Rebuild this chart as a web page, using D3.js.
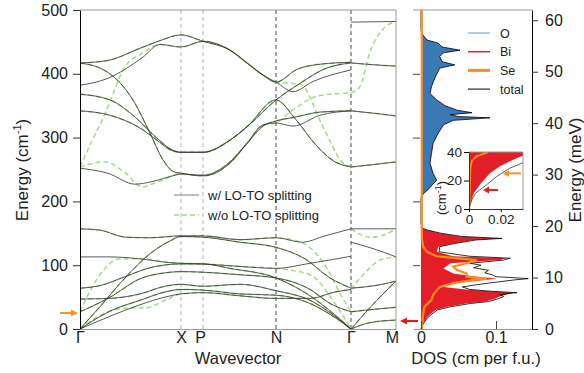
<!DOCTYPE html>
<html><head><meta charset="utf-8">
<script src="https://cdn.jsdelivr.net/npm/d3@7"></script>
<style>
html,body{margin:0;padding:0;background:#fff;}
svg{display:block;font-family:"Liberation Sans",Arial,sans-serif;}
</style></head><body>
<svg id="c" width="584" height="373"></svg>
<script>
// ---------------- DATA ----------------
const kTicks = [0, 101, 123, 196, 271, 316];
const kLabels = ["Γ", "X", "P", "N", "Γ", "M"];
const energyTicks = [0, 100, 200, 300, 400, 500];
const mevTicks = [0, 10, 20, 30, 40, 50, 60];
const dosTicks = [0, 0.1];
const insetYTicks = [0, 20, 40];
const insetXTicks = [0, 0.02];
const legendBands = ["w/ LO-TO splitting", "w/o LO-TO splitting"];
const legendDos = ["O", "Bi", "Se", "total"];

// phonon branches [k, energy cm^-1] drawn in both styles
const bandsShared = [
  [[0,417],[28,421],[60,440],[80,452],[101,461],[123,451],[150,437],[167,417],[183,398],[196,387],[217,407],[240,415],[271,418]],
  [[0,417],[27,403],[53,359],[70,307],[83,265],[93,247],[101,244],[123,241],[150,262],[167,291],[183,318],[196,326],[215,332],[240,340],[271,342]],
  [[0,368],[30,359],[53,335],[77,299],[93,280],[101,277],[123,277],[150,296],[167,317],[196,359],[220,385],[245,408],[271,417]],
  [[0,342],[30,335],[60,315],[77,296],[90,281],[101,277],[123,277],[150,296],[167,317],[196,359],[215,330],[235,290],[255,262],[271,254]],
  [[0,0],[20,35],[45,80],[70,118],[90,138],[101,145],[123,144],[160,136],[196,128],[225,110],[250,80],[271,64]],
  [[0,64],[20,68],[45,82],[70,96],[101,102],[123,102],[150,95],[196,80],[230,52],[255,22],[271,0]],
  [[0,27],[28,48],[62,80],[85,88],[101,90],[123,89],[160,85],[196,80],[230,62],[250,40],[271,27]],
  [[0,47],[30,48],[60,55],[85,67],[101,70],[123,67],[160,70],[196,60],[230,45],[255,20],[271,0]],
  [[0,0],[30,28],[60,45],[85,58],[101,62],[123,61],[160,55],[196,53],[230,40],[255,18],[271,0]],
  [[271,417],[295,414],[316,412]],
  [[271,342],[295,338],[316,334]],
  [[271,254],[295,258],[316,262]],
  [[271,64],[295,68],[316,75]],
  [[271,0],[295,42],[316,75]],
  [[271,27],[295,31],[316,34]],
  [[271,0],[290,10],[316,14]]
];
// branches only with LO-TO splitting
const bandsLO = [
  [[0,382],[28,393],[62,425],[80,446],[101,442],[123,451],[150,437],[167,417],[183,398],[196,387],[213,372],[233,388],[271,406]],
  [[0,252],[28,244],[55,227],[72,231],[95,241],[101,243],[123,240],[150,260],[167,291],[183,320],[196,323],[213,318],[240,335],[271,342]],
  [[0,157],[20,155],[45,144],[70,143],[101,146],[123,146],[160,140],[196,143],[222,136],[245,146],[271,157]],
  [[0,113],[30,113],[60,110],[90,104],[101,103],[123,102],[160,98],[196,95],[230,103],[271,114]],
  [[0,0],[30,20],[60,38],[85,50],[101,55],[123,57],[160,52],[196,48],[230,48],[255,58],[271,62]],
  [[271,481],[316,482]],
  [[271,136],[295,125],[316,113]],
  [[271,157],[295,157],[316,157]]
];
// branches only without LO-TO splitting
const bandsNoLO = [
  [[0,254],[12,295],[25,337],[45,411],[62,432],[80,446],[101,442],[123,451],[150,437],[167,417],[183,398],[196,387],[220,384],[243,317],[262,262],[271,254]],
  [[0,254],[25,262],[45,245],[62,223],[80,232],[101,243],[123,240],[150,260],[167,291],[183,320],[196,323],[210,340],[240,366],[271,370]],
  [[0,157],[20,155],[45,144],[70,143],[101,146],[123,146],[160,140],[196,143],[222,135],[245,100],[262,50],[271,27]],
  [[0,27],[12,65],[25,95],[40,110],[60,110],[90,104],[101,103],[123,102],[160,98],[196,95],[230,85],[255,40],[271,0]],
  [[0,0],[25,25],[50,33],[65,33],[85,45],[101,55],[123,57],[160,52],[196,48],[230,48],[255,58],[271,62]],
  [[271,370],[280,380],[290,434],[303,470],[316,482]],
  [[271,62],[285,88],[300,108],[316,113]],
  [[271,157],[290,144],[305,148],[316,157]]
];

// DOS [energy cm^-1, DOS]
const dosO = [[205,0],[212,0.003],[218,0.009],[226,0.015],[233,0.021],[244,0.016],[260,0.012],[275,0.014],[291,0.016],[307,0.023],[320,0.03],[327,0.043],[331,0.092],[333,0.05],[336,0.039],[339,0.068],[343,0.048],[350,0.032],[359,0.021],[369,0.012],[380,0.014],[395,0.019],[409,0.025],[414,0.045],[419,0.028],[427,0.025],[433,0.03],[437,0.052],[442,0.028],[448,0.023],[453,0.008],[463,0.001],[470,0],[500,0]];
const dosBi = [[0,0],[4,0.001],[11,0.004],[18,0.008],[25,0.014],[30,0.02],[35,0.035],[40,0.06],[43,0.085],[47,0.098],[51,0.105],[57,0.123],[59,0.09],[62,0.06],[66,0.03],[72,0.048],[77,0.088],[79,0.101],[82,0.074],[87,0.043],[95,0.03],[103,0.039],[108,0.105],[111,0.114],[114,0.043],[121,0.021],[129,0.023],[134,0.043],[139.5,0.07],[142,0.105],[145,0.052],[150,0.025],[155,0.008],[158,0]];
const dosSe = [[0,0.001],[14,0.002],[24.5,0.003],[35,0.0047],[45.6,0.014],[53,0.016],[61,0.021],[66,0.025],[72,0.043],[77,0.07],[79,0.088],[82,0.061],[87,0.061],[92.5,0.048],[98,0.043],[103,0.061],[108,0.074],[112,0.039],[114,0.021],[121,0.008],[129,0.003],[142,0.001],[500,0.001]];
const dosTotalLow = [[0,0],[4,0.0012],[11,0.0045],[18,0.009],[25,0.016],[30,0.022],[35,0.04],[40,0.066],[43,0.09],[47,0.102],[51,0.11],[54,0.105],[57,0.128],[59,0.095],[62,0.065],[66,0.055],[72,0.09],[77,0.125],[79,0.143],[82,0.1],[85,0.095],[88,0.085],[92,0.09],[96,0.07],[100,0.08],[103,0.065],[108,0.11],[111,0.119],[114,0.065],[121,0.024],[129,0.025],[134,0.045],[139.5,0.073],[142,0.108],[145,0.055],[150,0.027],[155,0.009],[158,0.002],[165,0],[205,0]];
const dosTotalHigh = dosO;

// inset (0-40 cm^-1)
const insetBi = [[0,0],[5,0.001],[11,0.003],[18,0.0075],[25,0.013],[30,0.0195],[34.4,0.0275],[37,0.033],[40,0.04]];
const insetTotal = [[0,0],[6.3,0.0017],[11,0.004],[13.4,0.0069],[16.9,0.011],[22.7,0.0173],[28.6,0.0256],[33.3,0.036]];
const insetSe = [[0,0],[10,0.0004],[25,0.0007],[30,0.001],[34,0.0019],[37,0.0048],[40,0.012]];

// marked modes (cm^-1)
const markOrange = 25;
const markRed = 12.5;
const insetMarkRed = 13.3;
const insetMarkOrange = 25;

// ---------------- DRAW ----------------
const svg = d3.select("#c");
const xK = d3.scaleLinear().domain([0, 316]).range([80, 396]);
const yE = d3.scaleLinear().domain([0, 500]).range([329, 10]);
const yMeV = d3.scaleLinear().domain([0, 500 / 8.0655]).range([329, 10]);
const xD = d3.scaleLinear().domain([-0.0107, 0.148]).range([413, 532]);
const xIn = d3.scaleLinear().domain([0, 0.034]).range([469, 523]);
const yIn = d3.scaleLinear().domain([0, 40]).range([209, 152]);

const FS = 16;
const FF = "Liberation Sans, Arial, sans-serif";
const defs = svg.append("defs");
defs.append("clipPath").attr("id","clipL").append("rect").attr("x",80).attr("y",10).attr("width",316).attr("height",319);
defs.append("clipPath").attr("id","clipD").append("rect").attr("x",413).attr("y",10).attr("width",119).attr("height",319);
defs.append("clipPath").attr("id","clipI").append("rect").attr("x",469).attr("y",152).attr("width",54).attr("height",57);

// ---- band panel ----
const gL = svg.append("g");
kTicks.forEach((k, i) => {
  if (i === 0 || i === kTicks.length - 1) return;
  gL.append("line").attr("x1", xK(k)).attr("x2", xK(k)).attr("y1", yE(500)).attr("y2", yE(0))
    .attr("stroke", i <= 2 ? "#aaa" : "#333").attr("stroke-width", 0.9).attr("stroke-dasharray", "4,3");
});
const bandLine = d3.line().x(d => xK(d[0])).y(d => yE(d[1])).curve(d3.curveMonotoneX);
const gB = gL.append("g").attr("clip-path", "url(#clipL)");
gB.selectAll("path.g").data(bandsShared.concat(bandsNoLO)).enter().append("path")
  .attr("d", bandLine).attr("fill","none").attr("stroke","#a6d888").attr("stroke-width",1.5).attr("stroke-dasharray","5,3");
gB.selectAll("path.s").data(bandsShared.concat(bandsLO)).enter().append("path")
  .attr("d", bandLine).attr("fill","none").attr("stroke","#333").attr("stroke-width",0.9).attr("stroke-opacity",0.9);

// frame
gL.append("line").attr("x1",80).attr("x2",396).attr("y1",10).attr("y2",10).attr("stroke","#999");
gL.append("line").attr("x1",396).attr("x2",396).attr("y1",10).attr("y2",329).attr("stroke","#999");

const axL = gL.append("g").attr("transform","translate(80,0)")
  .call(d3.axisLeft(yE).tickValues(energyTicks).tickSizeInner(7).tickSizeOuter(0).tickPadding(5));
axL.select(".domain").attr("stroke","#000");
axL.selectAll("text").attr("font-size",FS).attr("fill","#222").attr("font-family",FF);
axL.selectAll(".tick line").attr("stroke","#333");

const axB = gL.append("g").attr("transform","translate(0,329)")
  .call(d3.axisBottom(xK).tickValues(kTicks).tickFormat((d,i)=>kLabels[i]).tickSizeInner(0).tickSizeOuter(0).tickPadding(3));
axB.select(".domain").attr("stroke","#999");
axB.selectAll("text").attr("font-size",FS).attr("fill","#222").attr("font-family",FF)
  .attr("dx",(d,i)=> i===2 ? -3 : (i===5 ? -4 : 0));

// titles
svg.append("text").attr("transform","translate(28,170) rotate(-90)").attr("text-anchor","middle")
  .attr("font-size",17).attr("fill","#222")
  .call(t=>{t.append("tspan").text("Energy (cm");t.append("tspan").attr("dy",-7).attr("font-size",11).text("-1");t.append("tspan").attr("dy",7).text(")");});
svg.append("text").attr("x",238).attr("y",364).attr("text-anchor","middle").attr("font-size",16.5).attr("fill","#222").text("Wavevector");

// band legend
const lg = svg.append("g");
legendBands.forEach((t,i)=>{
  const y = 195 + i*20;
  lg.append("line").attr("x1",174).attr("x2",199).attr("y1",y).attr("y2",y)
    .attr("stroke", i===0 ? "#999" : "#a6d888").attr("stroke-width",1.3).attr("stroke-dasharray", i===0 ? null : "5,3");
  lg.append("text").attr("x",208).attr("y",y+4.5).attr("font-size",13).attr("fill","#222").text(t);
});

// arrows
function arrow(g, x1, x2, y, color, len, w){
  const dir = Math.sign(x2 - x1);
  g.append("line").attr("x1",x1).attr("x2",x2 - dir*len*0.8).attr("y1",y).attr("y2",y).attr("stroke",color).attr("stroke-width",2);
  g.append("path").attr("d",`M${x2},${y} L${x2-dir*len},${y-w/2} L${x2-dir*len},${y+w/2} Z`).attr("fill",color);
}
arrow(svg, 60, 78, yE(markOrange), "#f7931e", 7, 7);
arrow(svg, 418, 400, yE(markRed), "#e41a1c", 7, 7);

// ---- DOS panel ----
const gD = svg.append("g");
const gDc = gD.append("g").attr("clip-path","url(#clipD)");
const areaD = d3.area().y(d=>yE(d[0])).x0(xD(0)).x1(d=>xD(d[1]));
const lineD = d3.line().y(d=>yE(d[0])).x(d=>xD(d[1]));
gDc.append("path").datum(dosO).attr("d",areaD).attr("fill","#3b78b6");
gDc.append("path").datum(dosBi).attr("d",areaD).attr("fill","#e41e26");
gDc.append("path").datum(dosTotalLow).attr("d",lineD).attr("fill","none").attr("stroke","#000").attr("stroke-width",0.8);
gDc.append("path").datum(dosTotalHigh).attr("d",lineD).attr("fill","none").attr("stroke","#000").attr("stroke-width",0.8);
gDc.append("path").datum(dosSe).attr("d",lineD).attr("fill","none").attr("stroke","#ff8c1a").attr("stroke-width",2.2);

gD.append("line").attr("x1",413).attr("x2",532).attr("y1",10).attr("y2",10).attr("stroke","#999");
const axDl = gD.append("g").attr("transform","translate(413,0)")
  .call(d3.axisRight(yE).tickValues([100,200,300,400]).tickSizeInner(7).tickSizeOuter(0).tickFormat(""));
axDl.select(".domain").remove();
axDl.selectAll(".tick line").attr("stroke","#444");
const axDb = gD.append("g").attr("transform","translate(0,329)")
  .call(d3.axisBottom(xD).tickValues(dosTicks).tickFormat(d=> d===0 ? "0" : "0.1").tickSizeInner(-8).tickSizeOuter(0).tickPadding(3));
axDb.select(".domain").attr("stroke","#999");
axDb.selectAll(".tick line").attr("stroke","#444");
axDb.selectAll("text").attr("font-size",FS).attr("fill","#222").attr("font-family",FF);
const axR = gD.append("g").attr("transform","translate(532,0)")
  .call(d3.axisRight(yMeV).tickValues(mevTicks).tickFormat(d3.format("d")).tickSizeInner(6).tickSizeOuter(0).tickPadding(7));
axR.select(".domain").attr("stroke","#000");
axR.selectAll(".tick line").attr("stroke","#333");
axR.selectAll("text").attr("font-size",FS).attr("fill","#222").attr("font-family",FF);

svg.append("text").attr("x",476).attr("y",364).attr("text-anchor","middle").attr("font-size",16.5).attr("fill","#222").text("DOS (cm per f.u.)");
svg.append("text").attr("transform","translate(581,170) rotate(-90)").attr("text-anchor","middle").attr("font-size",17).attr("fill","#222").text("Energy (meV)");

// DOS legend
const dl = svg.append("g");
const dlColors = ["#7fa9d8","#e41e26","#ff8c1a","#000"];
const dlWidths = [1.2,1.5,3,1];
legendDos.forEach((t,i)=>{
  const y = 33 + i*18.7;
  dl.append("line").attr("x1",468).attr("x2",490).attr("y1",y).attr("y2",y).attr("stroke",dlColors[i]).attr("stroke-width",dlWidths[i]);
  dl.append("text").attr("x",500).attr("y",y+4.5).attr("font-size",12.5).attr("fill","#222").text(t);
});

// ---- inset ----
const gI = svg.append("g");
gI.append("rect").attr("x",469).attr("y",152).attr("width",54).attr("height",57).attr("fill","#fff");
const gIc = gI.append("g").attr("clip-path","url(#clipI)");
const areaIBi = d3.area().y(d=>yIn(d[0])).x0(xIn(0)).x1(d=>xIn(d[1]));
const lineI = d3.line().y(d=>yIn(d[0])).x(d=>xIn(d[1]));
gIc.append("path").datum(insetBi).attr("d",areaIBi).attr("fill","#e41e26");
gIc.append("path").datum(insetTotal).attr("d",lineI).attr("fill","none").attr("stroke","#333").attr("stroke-width",0.8);
gIc.append("path").datum(insetSe).attr("d",lineI).attr("fill","none").attr("stroke","#ff8c1a").attr("stroke-width",2);
gI.append("line").attr("x1",469).attr("x2",523).attr("y1",152).attr("y2",152).attr("stroke","#999");
gI.append("line").attr("x1",523).attr("x2",523).attr("y1",152).attr("y2",209).attr("stroke","#999");
const axIl = gI.append("g").attr("transform","translate(469,0)")
  .call(d3.axisLeft(yIn).tickValues(insetYTicks).tickSizeInner(5).tickSizeOuter(0).tickPadding(2));
axIl.select(".domain").attr("stroke","#333");
axIl.selectAll("text").attr("font-size",13.5).attr("fill","#222").attr("font-family",FF);
const axIb = gI.append("g").attr("transform","translate(0,209)")
  .call(d3.axisBottom(xIn).tickValues(insetXTicks).tickFormat(d=> d===0 ? "0" : "0.02").tickSizeInner(3).tickSizeOuter(0).tickPadding(2));
axIb.select(".domain").attr("stroke","#333");
axIb.selectAll("text").attr("font-size",13.5).attr("fill","#222").attr("font-family",FF);
svg.append("text").attr("transform","translate(446,198) rotate(-90)").attr("text-anchor","middle")
  .attr("font-size",13).attr("fill","#222")
  .call(t=>{t.append("tspan").text("(cm");t.append("tspan").attr("dy",-5).attr("font-size",9).text("-1");t.append("tspan").attr("dy",5).text(")");});
arrow(svg, 498, 483, yIn(insetMarkRed), "#e41a1c", 6, 7);
arrow(svg, 521, 503, yIn(insetMarkOrange), "#f7931e", 6, 7);
</script>
</body></html>
